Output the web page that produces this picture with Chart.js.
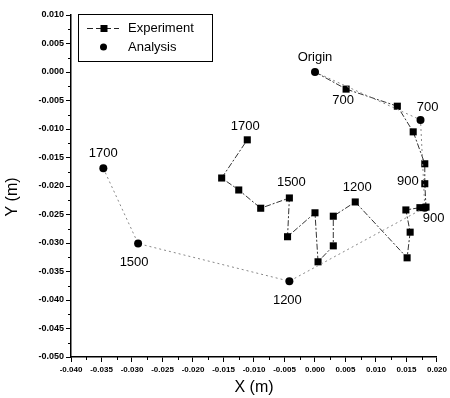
<!DOCTYPE html>
<html>
<head>
<meta charset="utf-8">
<script src="https://cdn.jsdelivr.net/npm/chart.js@4.4.0/dist/chart.umd.min.js"></script>
<style>
  html, body { margin: 0; padding: 0; background: #fff; }
  #wrap { width: 450px; height: 398px; }
</style>
</head>
<body>
<div id="wrap"><canvas id="chart"></canvas></div>
<script>
// ── data ──
const expX = [0.0000, 0.0051, 0.0135, 0.0161, 0.0180, 0.0180, 0.0182, 0.0172, 0.0149, 0.0156, 0.0151,
              0.0066, 0.0030, 0.0030, 0.0005, 0.0000, -0.0045, -0.0042, -0.0089, -0.0125, -0.0153, -0.0111];
const expY = [0.0000, -0.0030, -0.0060, -0.0105, -0.0161, -0.0196, -0.0237, -0.0238, -0.0242, -0.0281, -0.0326,
              -0.0228, -0.0253, -0.0305, -0.0333, -0.0247, -0.0289, -0.0221, -0.0239, -0.0207, -0.0186, -0.0119];
const anaX = [0.0000, 0.0173, 0.0180, -0.0042, -0.0290, -0.0347];
const anaY = [0.0000, -0.0084, -0.0238, -0.0367, -0.0301, -0.0169];

const xTicks = [-0.040, -0.035, -0.030, -0.025, -0.020, -0.015, -0.010, -0.005, 0.000, 0.005, 0.010, 0.015, 0.020];
const yTicks = [-0.050, -0.045, -0.040, -0.035, -0.030, -0.025, -0.020, -0.015, -0.010, -0.005, 0.000, 0.005, 0.010];

// point notes: which point, what text
const expNotes = [[1, '700'], [5, '900'], [11, '1200'], [17, '1500'], [21, '1700']];
const anaNotes = [[0, 'Origin'], [1, '700'], [2, '900'], [3, '1200'], [4, '1500'], [5, '1700']];

// pixel offsets of each note from its point (style only)
const expOff = { 1: [-3, 11, 'center'], 5: [-6, -2, 'right'], 11: [2, -15, 'center'], 17: [2, -16, 'center'], 21: [-2, -13, 'center'] };
const anaOff = { 0: [0, -15, 'center'], 1: [7, -12, 'center'], 2: [-2, 11, 'left'], 3: [-2, 19, 'center'], 4: [-4, 19, 'center'], 5: [0, -15, 'center'] };

const FONT = '"Liberation Sans", Arial, sans-serif';
const fmt = v => { const s = Number(v).toFixed(3); return s === '-0.000' ? '0.000' : s; };

const decor = {
  id: 'decor',
  afterDraw(chart) {
    const { ctx, scales: { x, y }, chartArea: a } = chart;
    ctx.save();
    // minor ticks
    ctx.strokeStyle = '#000'; ctx.lineWidth = 1;
    ctx.beginPath();
    for (let k = 0; k < xTicks.length - 1; k++) {
      const px = Math.round(x.getPixelForValue((xTicks[k] + xTicks[k + 1]) / 2)) + 0.5;
      ctx.moveTo(px, a.bottom); ctx.lineTo(px, a.bottom + 3);
    }
    for (let k = 0; k < yTicks.length - 1; k++) {
      const py = Math.round(y.getPixelForValue((yTicks[k] + yTicks[k + 1]) / 2)) + 0.5;
      ctx.moveTo(a.left, py); ctx.lineTo(a.left - 3, py);
    }
    ctx.stroke();

    // point notes
    ctx.fillStyle = '#000';
    ctx.font = '13px ' + FONT;
    ctx.textBaseline = 'middle';
    const note = (xs, ys, list, off) => list.forEach(([i, t]) => {
      const o = off[i];
      ctx.textAlign = o[2];
      ctx.fillText(t, x.getPixelForValue(xs[i]) + o[0], y.getPixelForValue(ys[i]) + o[1]);
    });
    note(expX, expY, expNotes, expOff);
    note(anaX, anaY, anaNotes, anaOff);

    // axis titles
    ctx.font = '16px ' + FONT;
    ctx.textAlign = 'center';
    ctx.fillText('X (m)', (a.left + a.right) / 2, 388);
    ctx.save();
    ctx.translate(13, 197);
    ctx.rotate(-Math.PI / 2);
    ctx.fillText('Y (m)', 0, 0);
    ctx.restore();

    // legend box
    ctx.lineWidth = 1;
    ctx.strokeRect(78.5, 14.5, 134, 47);
    ctx.strokeStyle = '#222';
    ctx.setLineDash([6, 3]);
    ctx.beginPath(); ctx.moveTo(87, 28.5); ctx.lineTo(119, 28.5); ctx.stroke();
    ctx.setLineDash([]);
    ctx.fillRect(100.5, 25, 7, 7);
    ctx.beginPath(); ctx.arc(103.5, 47, 3.5, 0, Math.PI * 2); ctx.fill();
    ctx.font = '13px ' + FONT;
    ctx.textAlign = 'left';
    ctx.fillText('Experiment', 128, 28);
    ctx.fillText('Analysis', 128, 47);
    ctx.restore();
  }
};

new Chart(document.getElementById('chart').getContext('2d'), {
  type: 'scatter',
  data: {
    datasets: [
      { label: 'Analysis', data: anaX.map((v, i) => ({ x: v, y: anaY[i] })), showLine: true,
        borderColor: '#888', borderWidth: 1, borderDash: [2, 3], pointStyle: 'circle', pointRadius: 4,
        pointBackgroundColor: '#000', pointBorderColor: '#000', pointBorderWidth: 0 },
      { label: 'Experiment', data: expX.map((v, i) => ({ x: v, y: expY[i] })), showLine: true,
        borderColor: '#333', borderWidth: 1, borderDash: [6, 2, 2, 2], pointStyle: 'rect',
        pointRadius: c => c.dataIndex === 0 ? 0 : 5, pointBackgroundColor: '#000', pointBorderColor: '#000', pointBorderWidth: 0 }
    ]
  },
  options: {
    responsive: true, maintainAspectRatio: false, animation: false,
    layout: { padding: { top: 15, right: 12, left: 0, bottom: 0 } },
    plugins: { legend: { display: false }, tooltip: { enabled: false } },
    scales: {
      x: { type: 'linear', min: -0.04, max: 0.02,
        afterBuildTicks: s => { s.ticks = xTicks.map(v => ({ value: v })); },
        afterFit: s => { s.height = 41; },
        border: { display: true, color: '#000', width: 1.5 },
        grid: { drawOnChartArea: false, drawTicks: true, tickLength: 5, color: '#000' },
        ticks: { callback: fmt, maxRotation: 0, autoSkip: false, padding: 3, color: '#000', font: { size: 8, weight: 'bold', family: FONT } } },
      y: { type: 'linear', min: -0.05, max: 0.01,
        afterBuildTicks: s => { s.ticks = yTicks.map(v => ({ value: v })); },
        afterFit: s => { s.width = 71; },
        border: { display: true, color: '#000', width: 1.5 },
        grid: { drawOnChartArea: false, drawTicks: true, tickLength: 5, color: '#000' },
        ticks: { callback: fmt, autoSkip: false, padding: 2, color: '#000', font: { size: 9, weight: 'bold', family: FONT } } }
    }
  },
  plugins: [decor]
});
</script>
</body>
</html>
